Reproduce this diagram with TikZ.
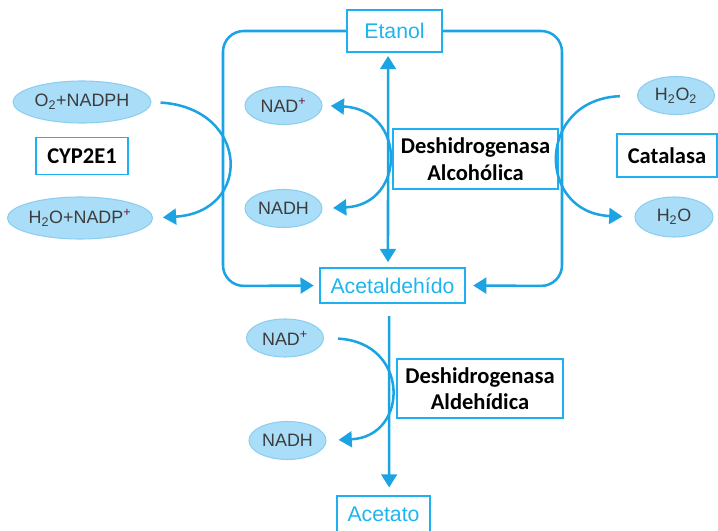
\documentclass[tikz,border=0pt]{standalone}
\usepackage{fontspec}
\setmainfont{Liberation Sans}
\newfontfamily\enzfont{Carlito}
\usetikzlibrary{arrows.meta,shapes.geometric}
\definecolor{flowblue}{RGB}{27,163,227}
\definecolor{boxblue}{RGB}{30,176,240}
\definecolor{textblue}{RGB}{30,180,238}
\definecolor{cofill}{RGB}{170,221,247}
\definecolor{coline}{RGB}{140,206,240}
\definecolor{cotext}{RGB}{60,60,60}
\definecolor{plusred}{RGB}{110,20,60}
\newcommand\pxl{0.0265cm}
\newcommand\plus{\textsuperscript{\color{plusred}+}}
\tikzset{
  subst/.style={draw=boxblue, line width=1.5pt, text=textblue, font=\fontsize{16}{18}\selectfont, minimum height=36*\pxl, inner sep=0pt},
  enz/.style={draw=boxblue, line width=1.5pt, font=\enzfont\bfseries\fontsize{17}{20}\selectfont, align=center, inner sep=0pt},
  cof/.style={ellipse, draw=coline, fill=cofill, line width=0.8pt, text=cotext, font=\fontsize{13.5}{15}\selectfont, inner sep=0pt, minimum width=77*\pxl, minimum height=38*\pxl},
  flow/.style={draw=flowblue, line width=1.9pt},
}
\begin{document}
\begin{tikzpicture}[>={Triangle[length=0.35cm,width=0.42cm]}, x=0.0265cm, y=-0.0265cm]
\useasboundingbox (0,0) rectangle (718,531);

% sustratos
\node[subst, minimum width=95*\pxl, minimum height=42*\pxl] (etanol) at (394.5,31) {Etanol};
\node[subst, minimum width=145*\pxl, minimum height=35*\pxl] (acetal) at (392.5,285.5) {Acetaldehído};
\node[subst, minimum width=93*\pxl] (acetato) at (383.5,514) {Acetato};

% enzimas
\node[enz, minimum width=165*\pxl, minimum height=60*\pxl] (adh) at (475.5,159) {Deshidrogenasa\\Alcohólica};
\node[enz, minimum width=166*\pxl, minimum height=59*\pxl] (aldh) at (480,388.5) {Deshidrogenasa\\Aldehídica};
\node[enz, minimum width=92*\pxl, minimum height=37*\pxl] (cyp) at (82,156) {CYP2E1};
\node[enz, minimum width=100*\pxl, minimum height=43*\pxl] (cat) at (667,155.5) {Catalasa};

% cofactores
\node[cof, minimum width=138*\pxl, minimum height=42*\pxl] (o2) at (82,102) {O\textsubscript{2}+NADPH};
\node[cof, minimum width=138*\pxl, minimum height=42*\pxl] (h2onadp) at (80,218) {H\textsubscript{2}O+NADP\plus};
\node[cof] (nadA) at (283.5,105.5) {NAD\plus};
\node[cof] (nadhA) at (283.5,208.5) {NADH};
\node[cof] (h2o2) at (676,95.5) {H\textsubscript{2}O\textsubscript{2}};
\node[cof, minimum width=78*\pxl, minimum height=40*\pxl] (h2o) at (674,217) {H\textsubscript{2}O};
\node[cof] (nadB) at (285,338) {NAD\plus};
\node[cof] (nadhB) at (287.5,440.5) {NADH};

\coordinate (lc) at (223,286);
\coordinate (rc) at (562,286);

% vias
\draw[flow, ->, rounded corners=0.55cm, shorten >=0.14cm] (etanol.west) -| (lc) -- (acetal.west);
\draw[flow, ->, rounded corners=0.55cm, shorten >=0.19cm] (etanol.east) -| (rc) -- (acetal.east);
\draw[flow, <->, shorten <=0.08cm, shorten >=0.13cm] ([xshift=-0.17cm]etanol.south) -- ([xshift=-0.12cm]acetal.north);
\draw[flow, ->, shorten <=0.32cm, shorten >=0.2cm] ([xshift=-0.09cm]acetal.south) -- ([xshift=0.15cm]acetato.north);

\draw[flow, ->, shorten <=0.24cm, shorten >=0.26cm] (o2.east) .. controls +(98,6) and +(100,-6) .. (h2onadp.east);
\draw[flow, <->, shorten <=0.22cm, shorten >=0.28cm] (nadA.east) .. controls +(84,4) and +(84,-4) .. (nadhA.east);
\draw[flow, ->, shorten <=0.45cm, shorten >=0.32cm] (h2o2.west) .. controls +(-101,4) and +(-98,-4) .. (h2o.west);
\draw[flow, ->, shorten <=0.37cm, shorten >=0.32cm] (nadB.east) .. controls +(86,4) and +(83,-4) .. (nadhB.east);

\end{tikzpicture}
\end{document}
